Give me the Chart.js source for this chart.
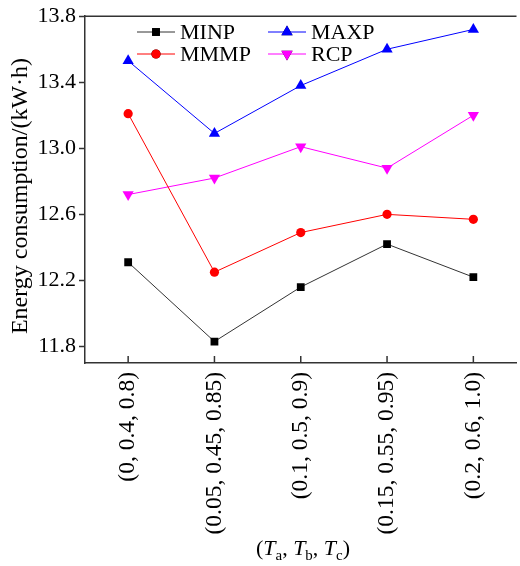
<!DOCTYPE html>
<html>
<head>
<meta charset="utf-8">
<script src="https://cdn.jsdelivr.net/npm/chart.js@4"></script>
<style>
    body { margin: 0; overflow: hidden; background: #fff; }
    #wrap { width: 523px; height: 566px; }
</style>
</head>
<body>
<div id="wrap"><canvas id="energyChart" width="523" height="566"></canvas></div>
<script>
const categories = ['(0, 0.4, 0.8)', '(0.05, 0.45, 0.85)', '(0.1, 0.5, 0.9)', '(0.15, 0.55, 0.95)', '(0.2, 0.6, 1.0)'];
const minp = [12.31, 11.83, 12.16, 12.42, 12.22];
const mmmp = [13.21, 12.25, 12.49, 12.60, 12.57];
const maxp = [13.53, 13.09, 13.38, 13.60, 13.72];
const rcp = [12.72, 12.82, 13.01, 12.88, 13.20];
const yTicks = [11.8, 12.2, 12.6, 13.0, 13.4, 13.8];
const yTitle = 'Energy consumption/(kW·h)';

const FONT = "'Liberation Serif', 'Times New Roman', Times, serif";

// legend slots: [lineStart x, row y]
const legendSlots = [[137, 32], [137, 54], [268, 32], [268, 54]];

const decorPlugin = {
    id: 'decor',
    afterDraw(chart) {
        const ctx = chart.ctx;
        const area = chart.chartArea;
        const xScale = chart.scales.x;
        ctx.save();
        // top frame line
        ctx.strokeStyle = '#333';
        ctx.lineWidth = 1.5;
        ctx.beginPath();
        ctx.moveTo(area.left, area.top);
        ctx.lineTo(area.right, area.top);
        ctx.stroke();
        // inward x ticks
        categories.forEach((c, i) => {
            const x = xScale.getPixelForTick(i);
            ctx.beginPath();
            ctx.moveTo(x, area.bottom);
            ctx.lineTo(x, area.bottom - 7);
            ctx.stroke();
        });

        // legend
        chart.data.datasets.forEach((ds, i) => {
            const [lx, ly] = legendSlots[i];
            ctx.strokeStyle = ds.borderColor;
            ctx.lineWidth = 1;
            ctx.beginPath();
            ctx.moveTo(lx, ly);
            ctx.lineTo(lx + 38, ly);
            ctx.stroke();
            Chart.helpers.drawPoint(ctx, {
                pointStyle: ds.pointStyle,
                rotation: ds.pointRotation || 0,
                radius: ds.pointRadius,
                borderWidth: 0
            }, lx + 19, ly);
            ctx.fillStyle = ds.pointBackgroundColor;
            ctx.fill();
            ctx.fillStyle = '#000';
            ctx.font = '22px ' + FONT;
            ctx.textBaseline = 'middle';
            ctx.textAlign = 'left';
            ctx.fillText(ds.label, lx + 43, ly + 1);
        });

        // y axis title
        ctx.save();
        ctx.translate(21, 196);
        ctx.rotate(-Math.PI / 2);
        ctx.font = '24px ' + FONT;
        ctx.textAlign = 'center';
        ctx.textBaseline = 'middle';
        ctx.fillText(yTitle, 0, 0);
        ctx.restore();

        // x axis title with italic T and subscripts
        const parts = [
            ['(', 'n'], ['T', 'i'], ['a', 's'], [', ', 'n'],
            ['T', 'i'], ['b', 's'], [', ', 'n'],
            ['T', 'i'], ['c', 's'], [')', 'n']
        ];
        const fontFor = t => t === 'i' ? 'italic 22px ' + FONT : (t === 's' ? '15px ' + FONT : '22px ' + FONT);
        let total = 0;
        parts.forEach(([s, t]) => { ctx.font = fontFor(t); total += ctx.measureText(s).width; });
        let x = 303 - total / 2;
        const base = 555;
        ctx.textAlign = 'left';
        ctx.textBaseline = 'alphabetic';
        parts.forEach(([s, t]) => {
            ctx.font = fontFor(t);
            ctx.fillText(s, x, t === 's' ? base + 5 : base);
            x += ctx.measureText(s).width;
        });
        ctx.restore();
    }
};

function drawChart() {
    new Chart(document.getElementById('energyChart'), {
        type: 'line',
        data: {
            labels: categories,
            datasets: [{
                label: 'MINP',
                data: minp,
                borderColor: '#333',
                borderWidth: 1,
                pointStyle: 'rect',
                pointRadius: 5.5,
                pointBackgroundColor: '#000',
                pointBorderWidth: 0
            }, {
                label: 'MMMP',
                data: mmmp,
                borderColor: '#f00',
                borderWidth: 1,
                pointStyle: 'circle',
                pointRadius: 4.6,
                pointBackgroundColor: '#f00',
                pointBorderWidth: 0
            }, {
                label: 'MAXP',
                data: maxp,
                borderColor: '#00f',
                borderWidth: 1,
                pointStyle: 'triangle',
                pointRadius: 6.5,
                pointBackgroundColor: '#00f',
                pointBorderWidth: 0
            }, {
                label: 'RCP',
                data: rcp,
                borderColor: '#f0f',
                borderWidth: 1,
                pointStyle: 'triangle',
                pointRotation: 180,
                pointRadius: 6.5,
                pointBackgroundColor: '#f0f',
                pointBorderWidth: 0
            }]
        },
        options: {
            responsive: false,
            animation: false,
            layout: { padding: { top: 14, right: 0, bottom: 0, left: 0 } },
            plugins: {
                legend: { display: false },
                tooltip: { enabled: false }
            },
            scales: {
                x: {
                    offset: true,
                    afterFit: s => { s.height = 203; },
                    border: { color: '#333', width: 1.5 },
                    grid: { drawOnChartArea: false, drawTicks: false },
                    ticks: {
                        minRotation: 90,
                        maxRotation: 90,
                        padding: 9,
                        color: '#000',
                        font: { family: FONT, size: 23.5 }
                    }
                },
                y: {
                    min: 11.7,
                    max: 13.8,
                    afterFit: s => { s.width = 85; },
                    afterBuildTicks: s => { s.ticks = yTicks.map(v => ({ value: v })); },
                    border: { color: '#333', width: 1.5 },
                    grid: { drawOnChartArea: false, tickLength: 6, color: '#333', tickWidth: 1.5 },
                    ticks: {
                        padding: 3,
                        color: '#000',
                        font: { family: FONT, size: 22 },
                        callback: v => v.toFixed(1)
                    }
                }
            }
        },
        plugins: [decorPlugin]
    });
}

document.fonts.load("22px 'Liberation Serif'").then(drawChart, drawChart);
</script>
</body>
</html>
